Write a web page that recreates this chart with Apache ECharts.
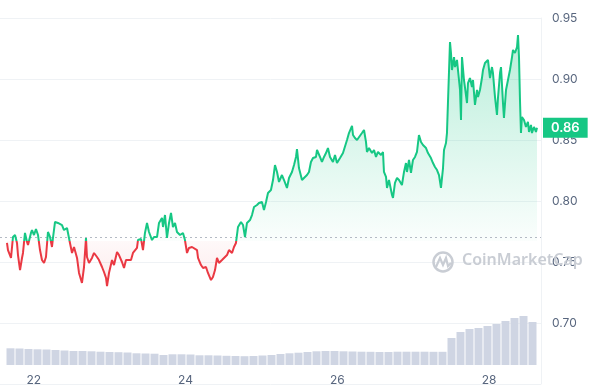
<!DOCTYPE html>
<html>
<head>
<meta charset="utf-8">
<script src="https://cdn.jsdelivr.net/npm/echarts@6/dist/echarts.min.js"></script>
<style>
html,body{margin:0;padding:0;background:#fff;}
#chart{width:600px;height:391px;}
</style>
</head>
<body>
<div id="chart"></div>
<script>
// ---- data (day of month, price in USD) ----
const days = [21.648,21.661,21.701,21.727,21.754,21.780,21.793,21.820,21.846,21.859,21.885,21.912,21.925,21.964,21.978,22.004,22.030,22.057,22.083,22.109,22.136,22.162,22.188,22.215,22.241,22.254,22.281,22.320,22.373,22.399,22.439,22.452,22.478,22.505,22.531,22.571,22.597,22.636,22.663,22.689,22.702,22.729,22.768,22.795,22.834,22.860,22.900,22.926,22.953,22.966,22.992,23.032,23.058,23.098,23.124,23.163,23.190,23.216,23.242,23.282,23.308,23.361,23.374,23.414,23.440,23.466,23.493,23.519,23.559,23.585,23.625,23.651,23.690,23.704,23.730,23.756,23.783,23.809,23.835,23.862,23.888,23.928,23.967,23.993,24.020,24.046,24.086,24.112,24.152,24.165,24.204,24.231,24.270,24.296,24.336,24.362,24.389,24.415,24.441,24.481,24.507,24.547,24.573,24.613,24.639,24.665,24.692,24.731,24.758,24.784,24.810,24.850,24.876,24.903,24.942,24.968,25.008,25.034,25.061,25.087,25.126,25.153,25.179,25.206,25.232,25.271,25.298,25.337,25.364,25.403,25.430,25.456,25.469,25.495,25.535,25.561,25.601,25.627,25.653,25.680,25.719,25.733,25.772,25.798,25.825,25.851,25.877,25.904,25.943,25.970,25.996,26.036,26.075,26.101,26.128,26.154,26.194,26.207,26.233,26.260,26.286,26.325,26.352,26.378,26.391,26.418,26.457,26.484,26.510,26.536,26.576,26.602,26.615,26.642,26.655,26.681,26.721,26.734,26.760,26.787,26.813,26.852,26.879,26.905,26.918,26.945,26.971,26.997,27.024,27.050,27.076,27.103,27.129,27.169,27.195,27.234,27.261,27.287,27.314,27.340,27.366,27.393,27.406,27.432,27.445,27.458,27.485,27.498,27.511,27.538,27.551,27.577,27.590,27.617,27.630,27.643,27.669,27.682,27.709,27.722,27.748,27.775,27.788,27.814,27.841,27.854,27.880,27.906,27.920,27.946,27.972,27.985,28.012,28.038,28.051,28.078,28.104,28.117,28.144,28.157,28.183,28.196,28.223,28.249,28.275,28.302,28.315,28.341,28.368,28.381,28.394,28.407,28.420,28.433,28.460,28.486,28.512,28.526,28.552,28.565,28.591,28.618,28.631];
const prices = [0.7656,0.7598,0.7533,0.7705,0.7721,0.7656,0.7557,0.7434,0.7533,0.7574,0.7738,0.7664,0.7639,0.7738,0.7762,0.7721,0.7770,0.7721,0.7598,0.7516,0.7492,0.7541,0.7746,0.7705,0.7623,0.7697,0.7828,0.7820,0.7803,0.7762,0.7779,0.7738,0.7656,0.7574,0.7623,0.7533,0.7410,0.7328,0.7459,0.7697,0.7541,0.7492,0.7533,0.7574,0.7541,0.7516,0.7459,0.7418,0.7369,0.7303,0.7410,0.7516,0.7475,0.7582,0.7557,0.7500,0.7451,0.7516,0.7500,0.7516,0.7574,0.7615,0.7680,0.7689,0.7598,0.7738,0.7820,0.7746,0.7680,0.7705,0.7705,0.7820,0.7861,0.7787,0.7885,0.7697,0.7820,0.7902,0.7787,0.7820,0.7746,0.7721,0.7738,0.7680,0.7574,0.7615,0.7623,0.7631,0.7598,0.7533,0.7475,0.7451,0.7459,0.7410,0.7352,0.7377,0.7434,0.7533,0.7492,0.7516,0.7500,0.7557,0.7598,0.7574,0.7623,0.7656,0.7787,0.7828,0.7803,0.7705,0.7820,0.7844,0.7885,0.7951,0.7967,0.7984,0.7992,0.7926,0.7992,0.8066,0.8090,0.8172,0.8295,0.8238,0.8156,0.8213,0.8172,0.8107,0.8189,0.8238,0.8295,0.8361,0.8426,0.8270,0.8172,0.8189,0.8213,0.8238,0.8320,0.8352,0.8361,0.8418,0.8361,0.8320,0.8361,0.8393,0.8434,0.8361,0.8320,0.8377,0.8311,0.8352,0.8393,0.8402,0.8500,0.8557,0.8615,0.8541,0.8516,0.8500,0.8516,0.8557,0.8582,0.8484,0.8402,0.8434,0.8393,0.8418,0.8361,0.8402,0.8377,0.8402,0.8238,0.8197,0.8107,0.8172,0.8049,0.8025,0.8148,0.8189,0.8172,0.8131,0.8238,0.8311,0.8238,0.8336,0.8230,0.8336,0.8361,0.8402,0.8541,0.8484,0.8459,0.8434,0.8393,0.8352,0.8311,0.8279,0.8254,0.8213,0.8107,0.8270,0.8418,0.8475,0.8557,0.8803,0.9303,0.9213,0.9074,0.9180,0.9098,0.9156,0.9074,0.8910,0.8664,0.9180,0.8992,0.8934,0.8803,0.8967,0.9008,0.8934,0.8992,0.8787,0.8910,0.8852,0.8910,0.9008,0.9074,0.9131,0.9139,0.9156,0.9008,0.9098,0.9049,0.8852,0.8705,0.8844,0.9049,0.9098,0.8803,0.8680,0.8910,0.8992,0.9074,0.9180,0.9238,0.9213,0.9262,0.9361,0.9180,0.8828,0.8557,0.8689,0.8664,0.8607,0.8648,0.8566,0.8623,0.8557,0.8607,0.8566,0.8600];
// relative trading volume, one bar per period
const volumes = [16.7,16.5,16,15.7,15.5,15,14.5,14,14,13.7,13.3,13,12.8,12.5,11.7,11.5,11.3,10,10.7,10.7,10.5,9.7,9.7,9.5,9.2,9,8.8,9,9.5,10,11,11.7,12.3,13,13.7,14,14,13.7,13.5,13.3,13.2,13,13,13.3,13.3,13.3,13.3,13.2,13.2,27,33,36,37,39,41,44,47,49,43];
const dayLabels = [22, 24, 26, 28];
const priceMin = 0.65, priceMax = 0.95, priceStep = 0.05;
const baseline = 0.7672;   // opening price of the period (dotted reference)
const lastPrice = 0.86;

const GREEN = '#16c784', RED = '#ea3943';
const lineData = days.map((d, i) => [d, prices[i]]);
const upData = days.map((d, i) => [d, Math.max(prices[i], baseline)]);
const downData = days.map((d, i) => [d, Math.min(prices[i], baseline)]);
const xMin = 21.556, xMax = 28.684;
const FONT = 'Inter';
const CLEAR = 'rgba(0,0,0,0)';

// layout: price plot spans y = 18 .. 384 px (0.95 .. 0.65)
const PT = 18, PB = 7, H = 391;
const plotH = H - PT - PB;
const basePx = PT + (priceMax - baseline) / (priceMax - priceMin) * plotH;

function hiddenX(gi) {
  return {type: 'value', gridIndex: gi, min: xMin, max: xMax, show: false};
}

const chart = echarts.init(document.getElementById('chart'), null, {renderer: 'canvas'});
chart.setOption({
  animation: false,
  backgroundColor: '#fff',
  grid: [
    {left: 0, right: 59, top: PT, bottom: PB},
    {left: 6, right: 63, top: 300, bottom: 26},
    {left: 0, right: 59, top: PT, bottom: H - basePx},     // area above baseline
    {left: 0, right: 59, top: basePx, bottom: PB}          // area below baseline
  ],
  xAxis: [
    {type: 'value', gridIndex: 0, min: xMin, max: xMax,
     axisLine: {show: false}, axisTick: {show: false}, splitLine: {show: false},
     axisLabel: {customValues: dayLabels, margin: -10, color: '#58667e', fontSize: 12, fontFamily: FONT,
                 formatter: v => String(Math.round(v))}},
    {type: 'category', gridIndex: 1, data: volumes.map((v, i) => i), show: false, boundaryGap: true},
    hiddenX(2), hiddenX(3)
  ],
  yAxis: [
    {type: 'value', gridIndex: 0, position: 'right', min: priceMin, max: priceMax, interval: priceStep,
     axisLine: {show: true, lineStyle: {color: '#eff2f5'}}, axisTick: {show: false},
     splitLine: {lineStyle: {color: '#eff2f5'}},
     axisLabel: {showMinLabel: false, margin: 11, color: '#58667e', fontSize: 12, fontFamily: FONT,
                 formatter: v => v.toFixed(2)}},
    {type: 'value', gridIndex: 1, min: 0, max: 65, show: false},
    {type: 'value', gridIndex: 2, min: baseline, max: priceMax, show: false},
    {type: 'value', gridIndex: 3, min: priceMin, max: baseline, show: false}
  ],
  visualMap: {
    type: 'piecewise', show: false, seriesIndex: 0, dimension: 1,
    pieces: [{gt: baseline, lte: 2, color: GREEN}, {gte: 0, lte: baseline, color: RED}],
    outOfRange: {color: GREEN}
  },
  series: [
    {type: 'line', xAxisIndex: 0, yAxisIndex: 0, data: lineData, showSymbol: false, z: 5,
     lineStyle: {width: 2}, silent: true,
     markLine: {silent: true, symbol: 'none',
       data: [
         {yAxis: baseline, lineStyle: {type: [2, 3], color: '#b4bac4', width: 1}, label: {show: false}},
         {yAxis: lastPrice, lineStyle: {color: CLEAR, width: 0},
          label: {show: true, position: 'end', distance: 2, formatter: lastPrice.toFixed(2),
                  backgroundColor: GREEN, color: '#fff', fontSize: 13, fontWeight: 600, fontFamily: FONT,
                  padding: [4, 8, 3, 8]}}
       ]}},
    {type: 'line', xAxisIndex: 2, yAxisIndex: 2, data: upData, showSymbol: false, silent: true, z: 2,
     lineStyle: {width: 0, color: CLEAR},
     areaStyle: {origin: 'start', opacity: 1, color: new echarts.graphic.LinearGradient(0, 0, 0, 1, [
       {offset: 0, color: 'rgba(22,199,132,0.30)'}, {offset: 1, color: 'rgba(22,199,132,0.02)'}])}},
    {type: 'line', xAxisIndex: 3, yAxisIndex: 3, data: downData, showSymbol: false, silent: true, z: 2,
     lineStyle: {width: 0, color: CLEAR},
     areaStyle: {origin: 'end', opacity: 1, color: new echarts.graphic.LinearGradient(0, 0, 0, 1, [
       {offset: 0, color: 'rgba(234,57,67,0.03)'}, {offset: 1, color: 'rgba(234,57,67,0.10)'}])}},
    {type: 'bar', xAxisIndex: 1, yAxisIndex: 1, data: volumes, barWidth: 8, silent: true,
     itemStyle: {color: '#cfd5e3'}}
  ],
  graphic: [
    {type: 'circle', shape: {cx: 443, cy: 262, r: 9.5}, style: {fill: 'none', stroke: '#c9cdd4', lineWidth: 2.5}, z: 1},
    {type: 'polyline', shape: {points: [[436, 267], [440, 258], [443, 265], [446, 258], [448, 266], [451, 263]]},
     style: {fill: 'none', stroke: '#c9cdd4', lineWidth: 2.2}, z: 1},
    {type: 'text', left: 462, top: 252, z: 1,
     style: {text: 'CoinMarketCap', fill: '#c9cdd4', font: '600 16px "Noto Sans"'}}
  ]
});
</script>
</body>
</html>
